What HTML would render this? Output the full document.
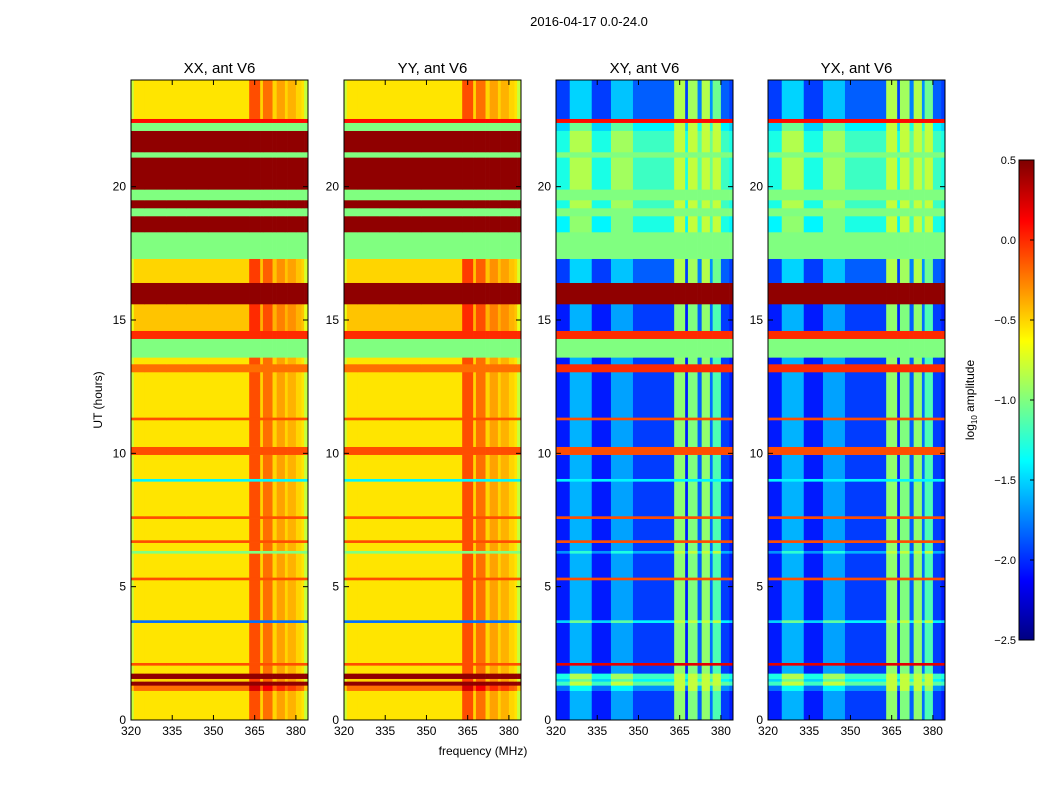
<!DOCTYPE html>
<html><head><meta charset="utf-8">
<style>
body{margin:0;background:#fff;}
svg text{font-family:"Liberation Sans",sans-serif;fill:#000;}
</style></head>
<body>
<svg id="fig" width="1050" height="800" viewBox="0 0 1050 800" xmlns="http://www.w3.org/2000/svg">
<rect width="1050" height="800" fill="#fff"/>
<text x="589" y="26" font-size="13" text-anchor="middle">2016-04-17 0.0-24.0</text>
<text x="483" y="755" font-size="12" text-anchor="middle">frequency (MHz)</text>
<text transform="translate(102,400) rotate(-90)" font-size="12" text-anchor="middle">UT (hours)</text>
<g id="panels"></g>
<g id="cbar"></g>
</svg>
<script>
// Time segments (hours)
const segStart = [0,1.1,1.3,1.45,1.55,1.75,2.05,2.15,3.65,3.75,5.25,5.35,6.25,6.35,6.65,6.75,7.55,7.65,8.95,9.05,9.95,10.25,11.25,11.35,13.05,13.35,13.6,14.3,14.6,15.6,16.4,17.3,18.3,18.9,19.2,19.5,19.9,21.1,21.3,22.1,22.4,22.55];
const segEnd   = [1.1,1.3,1.45,1.55,1.75,2.05,2.15,3.65,3.75,5.25,5.35,6.25,6.35,6.65,6.75,7.55,7.65,8.95,9.05,9.95,10.25,11.25,11.35,13.05,13.35,13.6,14.3,14.6,15.6,16.4,17.3,18.3,18.9,19.2,19.5,19.9,21.1,21.3,22.1,22.4,22.55,24];
const xxBase = [-0.55,-0.2,null,-0.5,null,-0.55,null,-0.55,null,-0.55,null,-0.55,null,-0.55,null,-0.55,null,-0.55,null,-0.55,null,-0.55,null,-0.55,null,-0.55,null,null,-0.45,null,-0.5,null,null,null,null,null,null,null,null,null,null,-0.55];
const xxFlag = [null,null,0.45,null,0.45,null,-0.1,null,-1.8,null,-0.1,null,-1.0,null,-0.1,null,-0.1,null,-1.4,null,-0.1,null,-0.1,null,-0.2,null,-1.0,0.0,null,0.45,null,-1.0,0.45,-1.0,0.45,-1.0,0.45,-1.0,0.45,-1.0,0.1,null];
const xyBase = [-2.05,-1.8,-1.2,-1.5,-1.3,-2.05,null,-2.05,-1.5,-2.05,null,-2.05,-1.7,-2.05,null,-2.05,null,-2.05,null,-2.05,null,-2.05,null,-2.05,null,-2.05,null,null,-2.05,null,-1.95,null,-1.4,null,-1.3,null,-1.3,null,-1.3,-1.5,null,-1.95];
const xyFlag = [null,null,null,null,null,null,0.2,null,null,null,-0.1,null,null,null,-0.1,null,-0.1,null,-1.4,null,-0.1,null,-0.1,null,0.0,null,-1.0,0.0,null,0.45,null,-1.0,null,-1.0,null,-1.0,null,-1.0,null,null,0.1,null];
// Frequency columns (MHz)
const colStart = [320,321,325,333,340,348,363,367,368,371.5,373,376,377,380,382,383];
const colEnd   = [321,325,333,340,348,363,367,368,371.5,373,376,377,380,382,383,384.4];
const xxCol = [-0.25,0,0,0,0,0,0.45,0.05,0.35,0.05,0.2,0.05,0.15,0.05,0,-0.25];
const xyCol = [0,0,0.45,0,0.4,0.1,1.1,0,1.05,0.2,1.1,0.25,0.9,0.1,0.1,0];
const panelTitles = ["XX, ant V6","YY, ant V6","XY, ant V6","YX, ant V6"];
const panelKind = ["par","par","cross","cross"];
const xTicks = [320,335,350,365,380];
const yTicks = [0,5,10,15,20];
const cbTicks = [0.5,0.0,-0.5,-1.0,-1.5,-2.0,-2.5];
const cbLabels = ["0.5","0.0","\u22120.5","\u22121.0","\u22121.5","\u22122.0","\u22122.5"];

const NS="http://www.w3.org/2000/svg";
const panelX=[131,344,556,768], PW=177, PT=80, PB=720;
const VMIN=-2.5, VMAX=0.5;
function jet(v){
  let t=(v-VMIN)/(VMAX-VMIN); t=Math.max(0,Math.min(1,t));
  const f=(a)=>Math.max(0,Math.min(1,1.5-Math.abs(4*t-a)));
  return `rgb(${Math.round(255*f(3))},${Math.round(255*f(2))},${Math.round(255*f(1))})`;
}
function el(tag,attrs,parent){const e=document.createElementNS(NS,tag);for(const k in attrs)e.setAttribute(k,attrs[k]);parent.appendChild(e);return e;}
const root=document.getElementById('panels');
for(let p=0;p<4;p++){
  const x0=panelX[p];
  const xs=(f)=>x0+(f-320)*PW/64.4;
  const ys=(h)=>PB-h*(PB-PT)/24;
  const g=el('g',{},root);
  
  
  const cross = panelKind[p]!=='par';
  const base = cross?xyBase:xxBase;
  const flag = cross?xyFlag:xxFlag;
  const col = cross?xyCol:xxCol;
  for(let i=0;i<segStart.length;i++){
    for(let j=0;j<colStart.length;j++){
      let v;
      if(flag[i]!==null) v=flag[i];
      else { v=base[i]+col[j]; if(cross) v=Math.min(v,-0.8); }
      const r=el('rect',{x:xs(colStart[j]),y:ys(segEnd[i]),width:xs(colEnd[j])-xs(colStart[j])+0.3,height:ys(segStart[i])-ys(segEnd[i])+0.3,fill:jet(v)},g);
      
      
    }
  }
  const fr=el('rect',{x:x0,y:PT,width:PW,height:PB-PT,fill:'none',stroke:'#000','stroke-width':1},g);
  
  
  const t=el('text',{x:x0+PW/2,y:PT-7,'font-size':15,'text-anchor':'middle'},g);
  t.textContent=panelTitles[p];
  
  
  xTicks.forEach(v=>{
    const X=xs(v);
    el('line',{x1:X,x2:X,y1:PB,y2:PB-5,stroke:'#000'},g);
    el('line',{x1:X,x2:X,y1:PT,y2:PT+5,stroke:'#000'},g);
    const tx=el('text',{x:X,y:PB+15,'font-size':12,'text-anchor':'middle'},g);
    tx.textContent=v;
    
    
  });
  yTicks.forEach(v=>{
    const Y=ys(v);
    el('line',{x1:x0,x2:x0+5,y1:Y,y2:Y,stroke:'#000'},g);
    el('line',{x1:x0+PW,x2:x0+PW-5,y1:Y,y2:Y,stroke:'#000'},g);
    const ty=el('text',{x:x0-5,y:Y+4,'font-size':12,'text-anchor':'end'},g);
    ty.textContent=v;
    
    
  });
}
// colorbar
const cb=document.getElementById('cbar');


const CX=1019,CW=15,CT=160,CB=640;
const cy=(v)=>CB-(v-VMIN)*(CB-CT)/(VMAX-VMIN);
for(let k=0;k<240;k++){
  const v0=VMIN+k*(VMAX-VMIN)/240, v1=VMIN+(k+1)*(VMAX-VMIN)/240;
  el('rect',{x:CX,y:cy(v1),width:CW,height:cy(v0)-cy(v1)+0.5,fill:jet((v0+v1)/2)},cb);
}
el('rect',{x:CX,y:CT,width:CW,height:CB-CT,fill:'none',stroke:'#000'},cb);
cbTicks.forEach((v,i)=>{
  const Y=cy(v);
  el('line',{x1:CX+CW-4,x2:CX+CW,y1:Y,y2:Y,stroke:'#000'},cb);
  const t=el('text',{x:CX-3,y:Y+4,'font-size':11,'text-anchor':'end'},cb);
  t.textContent=cbLabels[i];
  
  
});
const cl=el('text',{transform:'translate(974,400) rotate(-90)','font-size':12,'text-anchor':'middle'},cb);
cl.innerHTML='log<tspan font-size="8" dy="3">10</tspan><tspan dy="-3"> amplitude</tspan>';


</script>
</body></html>
